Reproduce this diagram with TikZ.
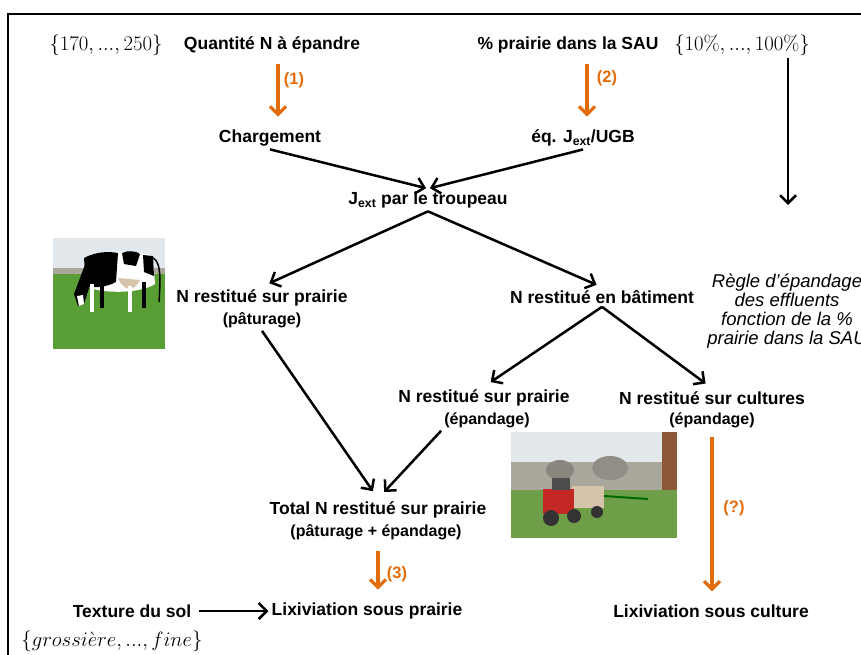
\documentclass[tikz,border=0pt]{standalone}
\usepackage[no-math]{fontspec}
\setmainfont{Liberation Sans}
\usetikzlibrary{arrows.meta}
\definecolor{orng}{RGB}{228,108,10}
\definecolor{sky}{RGB}{226,232,236}
\definecolor{grass}{RGB}{88,158,52}
\definecolor{field}{RGB}{110,158,72}
\definecolor{trees}{RGB}{170,168,156}
\definecolor{cowtan}{RGB}{214,196,170}
\definecolor{trred}{RGB}{196,40,36}
\definecolor{trbrown}{RGB}{140,88,56}
\begin{document}
\begin{tikzpicture}[x=1pt,y=-1pt,
	lab/.style={font=\fontsize{17.5}{21}\selectfont\bfseries, inner sep=3pt},
	sub/.style={font=\fontsize{16}{19}\selectfont\bfseries, inner sep=3pt},
	set/.style={font=\fontsize{21}{24}\selectfont, inner sep=2pt},
	num/.style={font=\fontsize{16.5}{19}\selectfont\bfseries, text=orng},
	arr/.style={-{Straight Barb[length=8pt,width=16pt]}, line width=2.5pt},
	oarr/.style={-{Straight Barb[length=8pt,width=16pt]}, line width=3.2pt, draw=orng, shorten <=8pt, shorten >=10pt}]
		\useasboundingbox (0,0) rectangle (861,654);
		\draw[line width=2pt] (8,660) -- (8,14) -- (870,14);

		% photo: vache au pâturage
		\fill[sky] (53,238) rectangle (165,274);
		\fill[trees] (53,268) rectangle (165,276);
		\fill[grass] (53,274) rectangle (165,349);
		\fill[white] (84,258) .. controls (100,249) and (135,250) .. (153,256) -- (155,284) .. controls (140,294) and (100,294) .. (86,286) -- cycle;
		\fill[black] (84,258) .. controls (95,252) and (108,251) .. (118,253) -- (116,282) .. controls (105,288) and (92,288) .. (86,286) -- cycle;
		\fill[black] (122,253) .. controls (128,250) and (136,251) .. (140,254) -- (136,266) -- (124,264) -- cycle;
		\fill[black] (143,255) -- (153,256) -- (154,276) -- (144,272) -- cycle;
		\fill[cowtan] (118,278) .. controls (124,292) and (134,292) .. (140,280) -- cycle;
		\fill[black] (86,262) -- (74,294) -- (78,306) -- (84,304) -- (94,272) -- cycle;
		\fill[white] (77,296) -- (79,306) -- (84,304) -- (83,295) -- cycle;
		\fill[white] (90,284) rectangle (94,312);
		\fill[black] (100,284) rectangle (104,308);
		\fill[white] (128,286) rectangle (132,312);
		\fill[black] (142,282) rectangle (146,308);
		\draw[black, line width=1.5pt] (153,258) .. controls (162,262) and (160,285) .. (159,302);

		% photo: épandage
		\fill[sky] (511,432) rectangle (677,480);
		\fill[trees] (511,462) rectangle (677,492);
		\fill[trees!80!black] (560,470) ellipse (14 and 10);
		\fill[trees!85!black] (610,468) ellipse (18 and 12);
		\fill[trbrown] (662,432) rectangle (677,505);
		\fill[field] (511,490) rectangle (677,538);
		\fill[cowtan] (572,486) rectangle (604,508);
		\fill[trred] (543,489) rectangle (574,514);
		\fill[black!70] (552,478) rectangle (570,490);
		\draw[green!40!black, line width=2pt] (604,496) -- (648,499);
		\fill[black!80] (551,518) circle (8);
		\fill[black!80] (574,516) circle (7);
		\fill[black!80] (597,512) circle (6);

		% textes
		\node[set] (s1) at (106,45)		{$\{170, ..., 250\}$};
		\node[lab] (qte) at (272,45)		{Quantité N à épandre};
		\node[lab] (pct) at (568,45)		{\% prairie dans la SAU};
		\node[set] (s2) at (742,45)		{$\{10\%, ..., 100\%\}$};
		\node[lab] (chg) at (270,138)		{Chargement};
		\node[lab] (eq) at (583,138)		{éq. J\textsubscript{ext}/UGB};
		\node[lab] (jx) at (428,200)		{J\textsubscript{ext} par le troupeau};
		\node[lab] (np) at (262,298)		{N restitué sur prairie};
		\node[sub] (np1) at (262,320)		{(pâturage)};
		\node[lab] (nb) at (602,297)		{N restitué en bâtiment};
		\node[font=\fontsize{18.5}{19}\selectfont\itshape, align=center] (rg) at (787,311)		{Règle d’épandage\\des effluents\\fonction de la \%\\prairie dans la SAU};
		\node[lab] (ne) at (484,398)		{N restitué sur prairie};
		\node[sub] (ne1) at (487,420)		{(épandage)};
		\node[lab] (nc) at (712,398)		{N restitué sur cultures};
		\node[sub] (nc1) at (712,420)		{(épandage)};
		\node[lab] (tot) at (378,510)		{Total N restitué sur prairie};
		\node[sub] (tot1) at (376,532)		{(pâturage + épandage)};
		\node[lab] (tex) at (132,611)		{Texture du sol};
		\node[set, font=\fontsize{19.5}{22}\selectfont] (s3) at (112,641)		{$\{grossi\grave{e}re, ..., fine\}$};
		\node[lab] (lp) at (367,611)		{Lixiviation sous prairie};
		\node[lab] (lc) at (711,611)		{Lixiviation sous culture};
		\coordinate (rg0) at (788,205);

		\node[num] (n1) at (294,80)		{(1)};
		\node[num] (n2) at (607,78)		{(2)};
		\node[num] (n3) at (397,574)		{(3)};
		\node[num] (n4) at (734,508)		{(?)};

		\draw[oarr] ([xshift=6pt]qte.south) -- ([xshift=8pt]chg.north);
		\draw[oarr] ([xshift=19pt]pct.south) -- ([xshift=4pt]eq.north);
		\draw[oarr] ([xshift=2pt]tot1.south) -- ([xshift=2pt]tot1.south |- lp.north);
		\draw[oarr, shorten <=6pt] (nc1.south) -- (nc1.south |- lc.north);

		\draw[arr, shorten >=2pt] (chg.south) -- (jx.north);
		\draw[arr, shorten >=2pt] (eq.south) -- (jx.north);
		\draw[arr, shorten >=8pt] (jx.south) -- (np.north);
		\draw[arr, shorten >=6pt] (jx.south) -- (nb.north);
		\draw[arr, shorten >=8pt] (nb.south) -- (ne.north);
		\draw[arr, shorten >=8pt] (nb.south) -- (nc.north);
		\draw[arr, shorten >=9pt] (np1.south) -- (tot.north);
		\draw[arr, shorten >=9pt] (ne1.south west) -- (tot.north);
		\draw[arr] (s2.south -| rg0) -- (rg0);
		\draw[arr, shorten <=5pt] (tex.east) -- (lp.west);
	\end{tikzpicture}
\end{document}
